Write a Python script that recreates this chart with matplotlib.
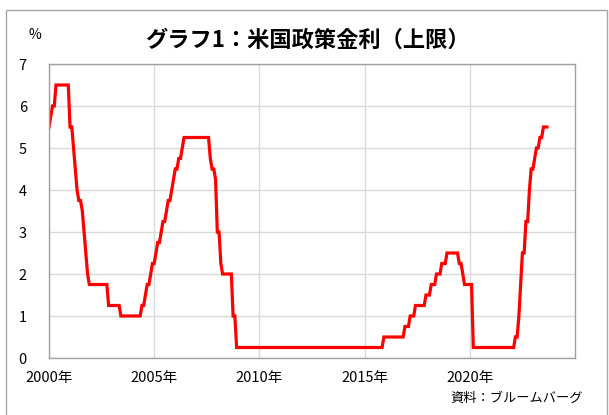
import matplotlib
matplotlib.use("Agg")
import matplotlib.pyplot as plt
from matplotlib.patches import Rectangle

plt.rcParams['font.family'] = ['Noto Sans CJK JP', 'DejaVu Sans']

# Monthly (month-end) upper bound of US policy rate, Jan 2000 - Sep 2023
start_year = 2000
rate = [
    # 2000
    5.5, 5.75, 6.0, 6.0, 6.5, 6.5, 6.5, 6.5, 6.5, 6.5, 6.5, 6.5,
    # 2001
    5.5, 5.5, 5.0, 4.5, 4.0, 3.75, 3.75, 3.5, 3.0, 2.5, 2.0, 1.75,
    # 2002
    1.75, 1.75, 1.75, 1.75, 1.75, 1.75, 1.75, 1.75, 1.75, 1.75, 1.25, 1.25,
    # 2003
    1.25, 1.25, 1.25, 1.25, 1.25, 1.0, 1.0, 1.0, 1.0, 1.0, 1.0, 1.0,
    # 2004
    1.0, 1.0, 1.0, 1.0, 1.0, 1.25, 1.25, 1.5, 1.75, 1.75, 2.0, 2.25,
    # 2005
    2.25, 2.5, 2.75, 2.75, 3.0, 3.25, 3.25, 3.5, 3.75, 3.75, 4.0, 4.25,
    # 2006
    4.5, 4.5, 4.75, 4.75, 5.0, 5.25, 5.25, 5.25, 5.25, 5.25, 5.25, 5.25,
    # 2007
    5.25, 5.25, 5.25, 5.25, 5.25, 5.25, 5.25, 5.25, 4.75, 4.5, 4.5, 4.25,
    # 2008
    3.0, 3.0, 2.25, 2.0, 2.0, 2.0, 2.0, 2.0, 2.0, 1.0, 1.0, 0.25,
    # 2009
    0.25, 0.25, 0.25, 0.25, 0.25, 0.25, 0.25, 0.25, 0.25, 0.25, 0.25, 0.25,
    # 2010
    0.25, 0.25, 0.25, 0.25, 0.25, 0.25, 0.25, 0.25, 0.25, 0.25, 0.25, 0.25,
    # 2011
    0.25, 0.25, 0.25, 0.25, 0.25, 0.25, 0.25, 0.25, 0.25, 0.25, 0.25, 0.25,
    # 2012
    0.25, 0.25, 0.25, 0.25, 0.25, 0.25, 0.25, 0.25, 0.25, 0.25, 0.25, 0.25,
    # 2013
    0.25, 0.25, 0.25, 0.25, 0.25, 0.25, 0.25, 0.25, 0.25, 0.25, 0.25, 0.25,
    # 2014
    0.25, 0.25, 0.25, 0.25, 0.25, 0.25, 0.25, 0.25, 0.25, 0.25, 0.25, 0.25,
    # 2015
    0.25, 0.25, 0.25, 0.25, 0.25, 0.25, 0.25, 0.25, 0.25, 0.25, 0.25, 0.5,
    # 2016
    0.5, 0.5, 0.5, 0.5, 0.5, 0.5, 0.5, 0.5, 0.5, 0.5, 0.5, 0.75,
    # 2017
    0.75, 0.75, 1.0, 1.0, 1.0, 1.25, 1.25, 1.25, 1.25, 1.25, 1.25, 1.5,
    # 2018
    1.5, 1.5, 1.75, 1.75, 1.75, 2.0, 2.0, 2.0, 2.25, 2.25, 2.25, 2.5,
    # 2019
    2.5, 2.5, 2.5, 2.5, 2.5, 2.5, 2.25, 2.25, 2.0, 1.75, 1.75, 1.75,
    # 2020
    1.75, 1.75, 0.25, 0.25, 0.25, 0.25, 0.25, 0.25, 0.25, 0.25, 0.25, 0.25,
    # 2021
    0.25, 0.25, 0.25, 0.25, 0.25, 0.25, 0.25, 0.25, 0.25, 0.25, 0.25, 0.25,
    # 2022
    0.25, 0.25, 0.5, 0.5, 1.0, 1.75, 2.5, 2.5, 3.25, 3.25, 4.0, 4.5,
    # 2023
    4.5, 4.75, 5.0, 5.0, 5.25, 5.25, 5.5, 5.5, 5.5,
]
x_ticks = [2000, 2005, 2010, 2015, 2020]
x_labels = ["2000年", "2005年", "2010年", "2015年", "2020年"]
y_ticks = [0, 1, 2, 3, 4, 5, 6, 7]

title = "グラフ1：米国政策金利（上限）"
unit = "%"
source = "資料：ブルームバーグ"

W, H = 609, 415
fig = plt.figure(figsize=(W / 100, H / 100), dpi=100)
fig.patch.set_facecolor("white")

# outer frame
fig.patches.append(Rectangle((6 / W, -0.05), (607 - 6) / W, (H - 10) / H + 0.05,
                             transform=fig.transFigure, fill=False,
                             edgecolor="#A6A6A6", linewidth=1.0))

ax = fig.add_axes([49 / W, (H - 358) / H, (575 - 49) / W, (358 - 64) / H])
xs = [start_year + i / 12 for i in range(len(rate))]
ax.plot(xs, rate, color="#FF0000", linewidth=2.3, solid_joinstyle="miter")

ax.set_xlim(2000, 2025)
ax.set_ylim(0, 7)
ax.set_xticks(x_ticks)
ax.set_xticklabels(x_labels)
ax.set_yticks(y_ticks)
ax.grid(True, color="#D9D9D9", linewidth=1.0)
ax.set_axisbelow(True)
for s in ax.spines.values():
    s.set_color("#A0A0A0")
    s.set_linewidth(1.0)
ax.tick_params(axis="both", length=0, labelsize=10.5, colors="black")
ax.tick_params(axis="x", pad=9)
ax.tick_params(axis="y", pad=16)

fig.text(307 / W, 1 - 40 / H, title, ha="center", va="center",
         fontsize=16, fontweight="bold")
fig.text(35 / W, 1 - 35 / H, unit, ha="center", va="center", fontsize=10)
fig.text(583 / W, 1 - 398 / H, source, ha="right", va="center", fontsize=9.5)

fig.savefig("out.png", dpi=100)
